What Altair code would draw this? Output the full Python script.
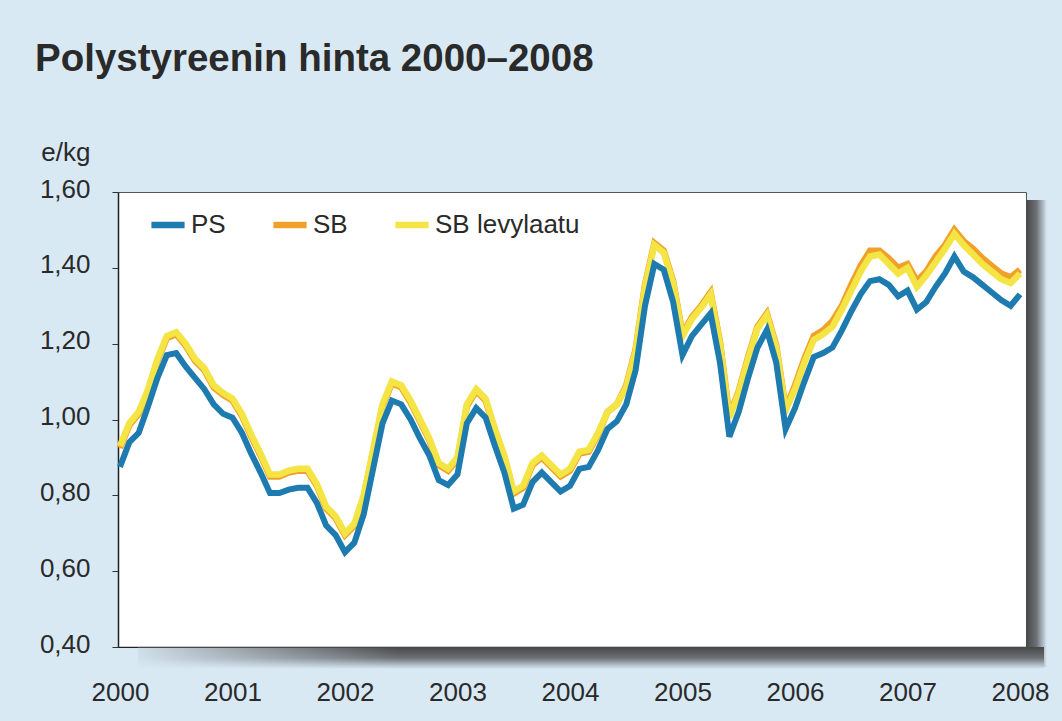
import altair as alt
import pandas as pd

# Monthly prices, EUR/kg, January 2000 - January 2008 (month index 0..96)
month_index = list(range(97))

ps = [
    0.875, 0.94, 0.965, 1.035, 1.11, 1.17, 1.175, 1.14, 1.11, 1.08, 1.04, 1.015,
    1.005, 0.965, 0.91, 0.86, 0.806, 0.806, 0.815, 0.82, 0.82, 0.78, 0.72, 0.695,
    0.65, 0.675, 0.75, 0.87, 0.99, 1.05, 1.04, 1.00, 0.95, 0.905, 0.84, 0.827,
    0.855, 0.99, 1.03, 1.005, 0.93, 0.86, 0.765, 0.775, 0.835, 0.86, 0.835, 0.81,
    0.825, 0.87, 0.875, 0.92, 0.975, 0.995, 1.04, 1.13, 1.30, 1.41, 1.395, 1.31,
    1.17, 1.22, 1.25, 1.28, 1.15, 0.955, 1.02, 1.11, 1.19, 1.236, 1.15, 0.975,
    1.03, 1.10, 1.165, 1.175, 1.19, 1.235, 1.285, 1.33, 1.365, 1.37, 1.355, 1.325,
    1.34, 1.29, 1.31, 1.35, 1.385, 1.43, 1.39, 1.375, 1.355, 1.335, 1.315, 1.30,
    1.33,
]

sb = [
    0.925, 0.985, 1.015, 1.075, 1.155, 1.215, 1.225, 1.195, 1.155, 1.13, 1.085, 1.065,
    1.05, 1.01, 0.955, 0.905, 0.85, 0.85, 0.86, 0.865, 0.865, 0.825, 0.765, 0.74,
    0.695, 0.72, 0.795, 0.915, 1.035, 1.095, 1.085, 1.045, 0.995, 0.945, 0.88, 0.865,
    0.895, 1.035, 1.075, 1.05, 0.97, 0.90, 0.805, 0.82, 0.88, 0.90, 0.875, 0.85,
    0.865, 0.91, 0.915, 0.96, 1.02, 1.04, 1.09, 1.185, 1.355, 1.465, 1.445, 1.365,
    1.225, 1.27, 1.30, 1.335, 1.205, 1.01, 1.075, 1.165, 1.245, 1.28, 1.195, 1.03,
    1.09, 1.16, 1.22, 1.235, 1.26, 1.30, 1.355, 1.405, 1.445, 1.445, 1.425, 1.40,
    1.41, 1.365, 1.39, 1.43, 1.46, 1.50, 1.47, 1.45, 1.425, 1.405, 1.385, 1.375,
    1.395,
]

sb_levylaatu = [
    0.93, 0.99, 1.02, 1.08, 1.16, 1.22, 1.23, 1.20, 1.16, 1.135, 1.09, 1.07,
    1.055, 1.015, 0.96, 0.91, 0.855, 0.855, 0.865, 0.87, 0.87, 0.83, 0.77, 0.745,
    0.70, 0.725, 0.80, 0.92, 1.04, 1.10, 1.09, 1.05, 1.00, 0.95, 0.885, 0.87,
    0.90, 1.04, 1.08, 1.055, 0.975, 0.905, 0.81, 0.825, 0.885, 0.905, 0.88, 0.855,
    0.87, 0.915, 0.92, 0.965, 1.02, 1.04, 1.085, 1.18, 1.35, 1.46, 1.44, 1.36,
    1.22, 1.265, 1.295, 1.33, 1.20, 1.005, 1.07, 1.16, 1.24, 1.275, 1.19, 1.025,
    1.08, 1.15, 1.21, 1.225, 1.245, 1.29, 1.34, 1.39, 1.43, 1.435, 1.41, 1.385,
    1.40, 1.35, 1.38, 1.415, 1.45, 1.49, 1.46, 1.435, 1.41, 1.39, 1.37, 1.36,
    1.385,
]

series_names = ["PS", "SB", "SB levylaatu"]
series_colors = ["#1d7bb0", "#f0a12c", "#f4e444"]
years = list(range(2000, 2009))
y_ticks = [0.4, 0.6, 0.8, 1.0, 1.2, 1.4, 1.6]

BG = "#d9e9f4"
INK = "#2a2a2a"
FONT = "Liberation Sans, Arial, Helvetica, sans-serif"
FS = 26

frames = []
for name, vals in zip(series_names, [ps, sb, sb_levylaatu]):
    frames.append(pd.DataFrame({"month": month_index, "price": vals, "series": name}))
df = pd.concat(frames, ignore_index=True)

W, H = 908, 455

color = alt.Color(
    "series:N",
    scale=alt.Scale(domain=series_names, range=series_colors),
    legend=alt.Legend(
        title=None,
        orient="none",
        legendX=30,
        legendY=13,
        direction="horizontal",
        symbolType="stroke",
        symbolSize=1100,
        symbolStrokeWidth=6.5,
        labelFont=FONT,
        labelFontSize=FS,
        labelColor=INK,
        labelOffset=3,
        columnPadding=34,
        padding=0,
    ),
)

x_enc = alt.X(
    "month:Q",
    scale=alt.Scale(domain=[-0.21, 96.64], nice=False, zero=False),
    axis=alt.Axis(
        values=[(y - 2000) * 12 for y in years],
        labelExpr="format(2000 + datum.value / 12, 'd')",
        title=None,
        grid=False,
        ticks=False,
        domainColor="#222222",
        domainWidth=1.5,
        labelFont=FONT,
        labelFontSize=FS,
        labelColor=INK,
        labelPadding=32,
        labelFlush=False,
    ),
)

y_enc = alt.Y(
    "price:Q",
    scale=alt.Scale(domain=[0.4, 1.6], nice=False, zero=False),
    axis=alt.Axis(
        values=y_ticks,
        labelExpr="replace(format(datum.value, '.2f'), '.', ',')",
        title="e/kg",
        titleAngle=0,
        titleAlign="right",
        titleBaseline="alphabetic",
        titleX=-28,
        titleY=-32,
        titleFont=FONT,
        titleFontSize=FS,
        titleFontWeight="normal",
        titleColor=INK,
        grid=False,
        tickSize=6,
        tickColor="#333333",
        domainColor="#222222",
        domainWidth=1.5,
        labelFont=FONT,
        labelFontSize=FS,
        labelColor=INK,
        labelPadding=22,
        labelBaseline="middle",
        labelOffset=-3,
    ),
)

one_row = alt.Data(values=[{"k": 1}])


def fade(x2, y2):
    return alt.LinearGradient(
        gradient="linear",
        stops=[
            alt.GradientStop(color="#474747", offset=0),
            alt.GradientStop(color="#6c7075", offset=0.5),
            alt.GradientStop(color=BG, offset=1),
        ],
        x1=0, y1=0, x2=x2, y2=y2,
    )


# Drop shadow of the white panel: right edge and bottom edge
shadow_right = alt.Chart(one_row).mark_rect(color=fade(1, 0)).encode(
    x=alt.value(W), x2=alt.value(W + 21), y=alt.value(8), y2=alt.value(H + 20)
)
shadow_bottom = alt.Chart(one_row).mark_rect(color=fade(0, 1)).encode(
    x=alt.value(20), x2=alt.value(W + 18), y=alt.value(H), y2=alt.value(H + 22)
)
shadow_fade_left = alt.Chart(one_row).mark_rect(
    color=alt.LinearGradient(
        gradient="linear",
        stops=[
            alt.GradientStop(color=BG, offset=0),
            alt.GradientStop(color="rgba(217,233,244,0)", offset=1),
        ],
        x1=0, y1=0, x2=1, y2=0,
    )
).encode(x=alt.value(0), x2=alt.value(280), y=alt.value(H + 1), y2=alt.value(H + 23))

base = alt.Chart(df).encode(x=x_enc, y=y_enc, color=color)

line_sb = base.transform_filter(alt.datum.series == "SB").mark_line(strokeWidth=6.5)
line_lev = base.transform_filter(alt.datum.series == "SB levylaatu").mark_line(strokeWidth=6.5)
line_ps = base.transform_filter(alt.datum.series == "PS").mark_line(strokeWidth=6)

chart = (
    alt.layer(shadow_right, shadow_bottom, shadow_fade_left, line_sb, line_lev, line_ps)
    .properties(
        width=W,
        height=H,
        autosize=alt.AutoSizeParams(type="none"),
        padding={"left": 118, "top": 192, "right": 36, "bottom": 74},
        background=BG,
        title=alt.TitleParams(
            "Polystyreenin hinta 2000\u20132008",
            anchor="start",
            frame="group",
            dx=-83,
            offset=60,
            font=FONT,
            fontSize=38.5,
            fontWeight="bold",
            color=INK,
        ),
    )
    .configure_view(fill="white", stroke="#555555", strokeWidth=1)
)

chart.save("out.html", embed_options={"renderer": "svg", "actions": False})
